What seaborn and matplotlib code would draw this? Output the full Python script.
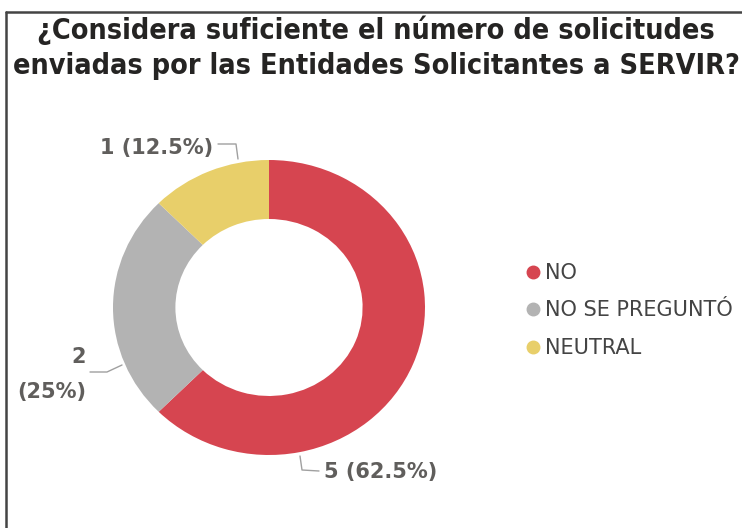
import matplotlib
matplotlib.use("Agg")
import matplotlib.pyplot as plt
import seaborn as sns
from matplotlib.lines import Line2D

categories = ["NO", "NO SE PREGUNTÓ", "NEUTRAL"]
counts = [5, 2, 1]
pct_labels = ["5 (62.5%)", "2\n(25%)", "1 (12.5%)"]
colors = ["#D64550", "#B3B3B3", "#E8CF6A"]
title = "¿Considera suficiente el número de solicitudes\nenviadas por las Entidades Solicitantes a SERVIR?"

sns.set_theme(style="white")
plt.rcParams["font.family"] = ["DejaVu Sans"]

W, H = 742, 528
fig = plt.figure(figsize=(W / 100, H / 100), dpi=100)
fig.patch.set_facecolor("white")

# frame lines (top and left)
fig.add_artist(Line2D([6 / W, 1.0], [1 - 12 / H, 1 - 12 / H], transform=fig.transFigure,
                      color="#444444", lw=1.8))
fig.add_artist(Line2D([6 / W, 6 / W], [0, 1 - 12 / H], transform=fig.transFigure,
                      color="#444444", lw=1.8))

fig.text(376 / W, 1 - 47.5 / H, title, ha="center", va="center", fontsize=20.6,
         fontweight="bold", family=["DejaVu Sans"], fontstretch="condensed",
         color="#252423", linespacing=1.3)

# donut axes: center (269, 307.5) px, radii 156 x 147.5
cx, cy, rx, ry = 269, 307.5, 156, 147.5
ax = fig.add_axes([(cx - rx) / W, (H - cy - ry) / H, 2 * rx / W, 2 * ry / H])
wedges, _ = ax.pie(counts, colors=colors, startangle=90, counterclock=False,
                   radius=1.0, wedgeprops=dict(width=0.4, linewidth=0))
ax.set_aspect("auto")
ax.set_xlim(-1, 1)
ax.set_ylim(-1, 1)
ax.axis("off")

def px(x, y):
    return ((x - cx) / rx, (cy - y) / ry)

lab_kw = dict(fontsize=15, fontweight="bold", color="#605E5C", clip_on=False)
line_kw = dict(color="#A0A0A0", lw=1, clip_on=False)

# NO label
pts = [px(300, 456), px(302, 470), px(319, 471)]
ax.plot([p[0] for p in pts], [p[1] for p in pts], **line_kw)
ax.text(*px(324, 472), pct_labels[0], ha="left", va="center", **lab_kw)

# NO SE PREGUNTÓ label
pts = [px(122, 365), px(107, 372), px(90, 372)]
ax.plot([p[0] for p in pts], [p[1] for p in pts], **line_kw)
ax.text(*px(86, 374.5), pct_labels[1], ha="right", va="center", multialignment="right",
        linespacing=1.94, **lab_kw)

# NEUTRAL label
pts = [px(238, 159), px(236, 144), px(218, 144)]
ax.plot([p[0] for p in pts], [p[1] for p in pts], **line_kw)
ax.text(*px(213, 148), pct_labels[2], ha="right", va="center", **lab_kw)

# legend
handles = [Line2D([0], [0], marker="o", linestyle="", markersize=9,
                  markerfacecolor=c, markeredgecolor=c) for c in colors]
leg = fig.legend(handles, categories, loc="upper left",
                 bbox_to_anchor=(527 / W, 1 - 263 / H), frameon=False,
                 fontsize=15, handlelength=0.6, handletextpad=0.28,
                 labelspacing=0.84, borderaxespad=0, borderpad=0)
for t in leg.get_texts():
    t.set_color("#444444")

fig.savefig("out.png", dpi=100, facecolor="white")
